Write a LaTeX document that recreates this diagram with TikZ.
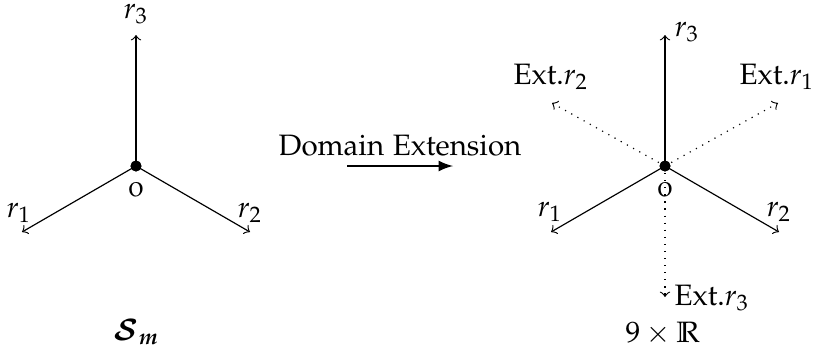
\documentclass[tikz,border=0pt]{standalone}
\usepackage[T1]{fontenc}
\usepackage[osf]{mathpazo}
\usepackage{bm}
\usetikzlibrary{arrows}
\begin{document}
\begin{tikzpicture}[x=0.339pt,y=-0.339pt,
  ray/.style={->},
  extray/.style={->,dotted},
  origin/.style={circle,fill=black,inner sep=0pt,minimum size=3.7pt},
  lbl/.style={inner sep=0pt}]
\useasboundingbox (0,0) rectangle (813,354);
% left diagram
\node[origin] (o1) at (136,166) {};
\coordinate (a13) at (136,35);
\coordinate (a11) at (22,232);
\coordinate (a12) at (250,232);
\draw[ray] (o1.center) -- (a13);
\draw[ray] (o1.center) -- (a11);
\draw[ray] (o1.center) -- (a12);
\node[origin] at (o1) {};
\node[lbl] (l13) at (136,14) {$r_3$};
\node[lbl] (l11) at (19,213) {$r_1$};
\node[lbl] (l12) at (250,213) {$r_2$};
\node[lbl] (l10) at (136,190) {0};
\node[lbl] (sm) at (137,332) {$\bm{\mathcal{S}_m}$};
% arrow
\node[lbl] (de) at (400,146) {Domain Extension};
\coordinate (d1) at (347,166);
\coordinate (d2) at (453,166);
\draw[-latex,line width=0.7pt] (d1) -- (d2);
% right diagram
\node[origin] (o2) at (665,166) {};
\coordinate (b3) at (665,35);
\coordinate (b1) at (551,232);
\coordinate (b2) at (779,232);
\coordinate (e2) at (552,103);
\coordinate (e1) at (778,103);
\coordinate (e3) at (665,297);
\draw[extray] (o2.center) -- (e1);
\draw[extray] (o2.center) -- (e2);
\draw[extray] (o2.center) -- (e3);
\draw[ray] (o2.center) -- (b3);
\draw[ray] (o2.center) -- (b1);
\draw[ray] (o2.center) -- (b2);
\node[origin] at (o2) {};
\node[lbl] (m3) at (687,32) {$r_3$};
\node[lbl] (m1) at (550,212) {$r_1$};
\node[lbl] (m2) at (779,212) {$r_2$};
\node[lbl] (m0) at (665,190) {0};
\node[lbl] (x2) at (551,77) {Ext.$r_2$};
\node[lbl] (x1) at (777,77) {Ext.$r_1$};
\node[lbl] (x3) at (712,298) {Ext.$r_3$};
\node[lbl] (rr) at (663,334) {$9\times\mathbb{R}$};
\end{tikzpicture}
\end{document}
